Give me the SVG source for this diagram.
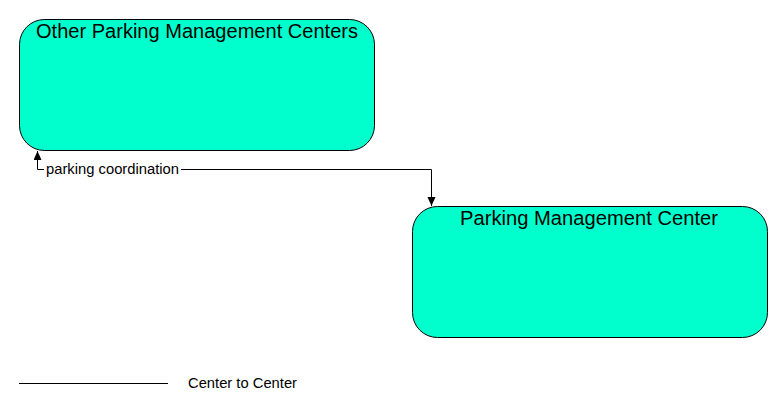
<svg xmlns="http://www.w3.org/2000/svg" width="783" height="412" viewBox="0 0 783 412">
<style>
.node{fill:#00FFCC;stroke:#000;stroke-width:1}
.title{font-family:"Liberation Sans",Arial,sans-serif;font-size:20px;fill:#000;text-anchor:middle}
.lbl{font-family:"Liberation Sans",Arial,sans-serif;font-size:14px;fill:#000}
.conn{fill:none;stroke:#000;stroke-width:1}
</style>
<defs>
<marker id="arr" markerWidth="10" markerHeight="10" refX="9" refY="4" orient="auto" markerUnits="userSpaceOnUse">
<path d="M0,0 L9,4 L0,8 Z" fill="#000"/>
</marker>
</defs>
<rect width="783" height="412" fill="#fff"/>
<g id="other-parking">
<rect class="node" x="19.5" y="19.5" width="355" height="131" rx="25" ry="25"/>
<text class="title" x="197" y="38" textLength="322" lengthAdjust="spacingAndGlyphs">Other Parking Management Centers</text>
</g>
<g id="parking-center">
<rect class="node" x="412.5" y="206.5" width="355" height="131" rx="25" ry="25"/>
<text class="title" x="589" y="225" textLength="258" lengthAdjust="spacingAndGlyphs">Parking Management Center</text>
</g>
<g id="connectors">
<path class="conn" d="M431.5,169.5 L431.5,206" marker-end="url(#arr)"/>
<path class="conn" d="M181,169.5 L431.5,169.5"/>
<path class="conn" d="M44,169.5 L37.5,169.5 L37.5,151" marker-end="url(#arr)"/>
<text class="lbl" x="46" y="174" textLength="133" lengthAdjust="spacingAndGlyphs">parking coordination</text>
</g>
<g id="legend">
<line class="conn" x1="19" y1="383.5" x2="168" y2="383.5"/>
<text class="lbl" x="188" y="388" textLength="109" lengthAdjust="spacingAndGlyphs">Center to Center</text>
</g>
</svg>
